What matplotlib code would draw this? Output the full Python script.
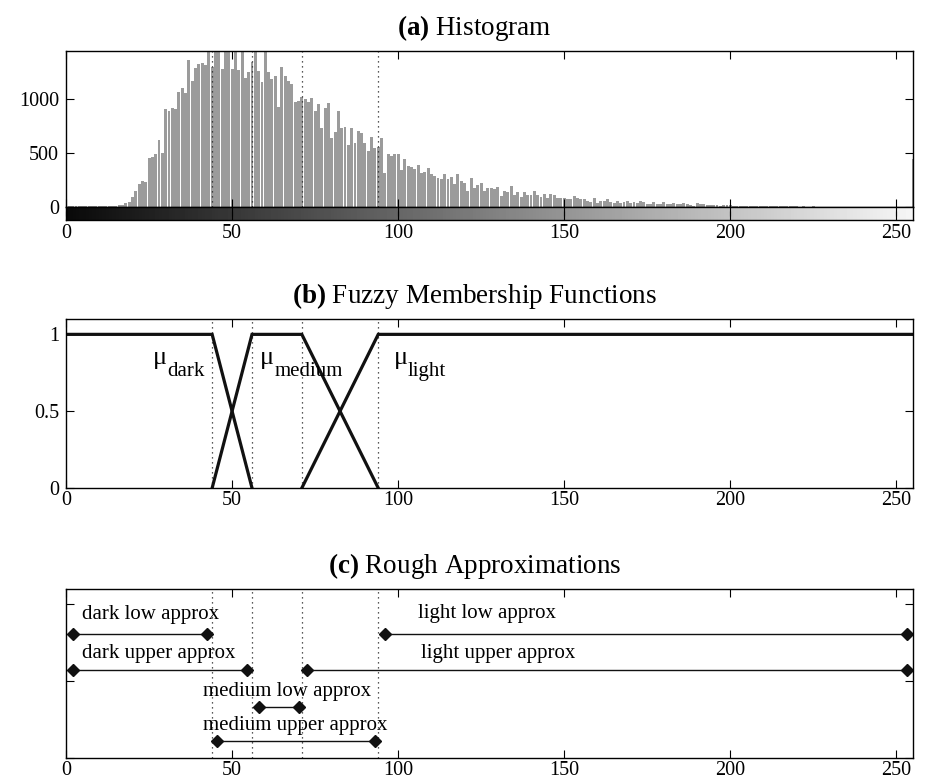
import matplotlib
matplotlib.use('Agg')
import matplotlib.pyplot as plt
import numpy as np

plt.rcParams['font.family'] = ['Liberation Serif', 'DejaVu Serif']
plt.rcParams['mathtext.fontset'] = 'custom'
plt.rcParams['mathtext.rm'] = 'Liberation Serif'
plt.rcParams['mathtext.bf'] = 'Liberation Serif:bold'

# grey-level histogram (counts for levels 0..255)
hist_counts = [
    4, 5, 5, 5, 5, 5, 5, 5, 5, 5, 5, 5, 5, 6,
    8, 12, 16,
    19, 34, 50, 90, 152, 214, 245, 236, 453, 468,
    493, 623, 499, 908, 893, 924, 908, 1073, 1110, 1063,
    1367, 1172, 1290, 1330, 1336, 1320, 1470, 1300, 1470, 1470,
    1287, 1470, 1470, 1287, 1470, 1271, 1470, 1200, 1256, 1349,
    1470, 1268, 1166, 1470, 1252, 1190, 1218, 933, 1299, 1218,
    1175, 1144, 973, 989, 1026, 1004, 973, 1017, 893, 958,
    732, 924, 970, 639, 694, 893, 732, 741, 577, 738,
    598, 710, 691, 592, 521, 654, 546, 561, 639, 319,
    493, 477, 493, 493,
    344, 443,
    384, 369, 353, 391, 319, 329, 360, 304, 288, 267,
    257, 304, 260, 276, 214, 304, 242, 220, 149, 267,
    174, 205, 220, 149, 180, 174, 164, 189, 102, 149,
    143, 198, 112, 136, 96, 136, 112, 112, 152, 112,
    90, 121, 81, 121, 112, 81, 81, 81,
    71, 71, 99, 84, 78, 71, 56, 47, 87, 40,
    56, 53, 78, 47, 40, 53, 40, 47, 53, 40,
    43, 40, 53, 47, 31, 25, 47, 31, 25, 43,
    31, 25, 34, 31, 31, 40, 25, 16, 12, 40,
    25, 25, 22, 22, 22, 16, 9, 19, 19, 16,
    9, 6, 6, 6,
    8, 6, 9, 7, 10, 6, 8, 5, 7, 9,
    6, 5, 8, 6, 5, 7, 4, 5, 3, 4,
    5, 3, 4, 3, 4, 3, 3, 4, 3, 2,
    3, 3, 2, 3, 2, 2, 3, 2, 2, 2,
    3, 2, 2, 1, 2, 2, 1, 2, 2, 3,
    450,
]
levels = np.arange(len(hist_counts))

# thresholds (dotted lines)
thresholds = [44, 56, 71, 94]

# fuzzy membership functions (breakpoints)
dark_x, dark_y = [0, 44, 56], [1, 1, 0]
medium_x, medium_y = [44, 56, 71, 94], [0, 1, 1, 0]
light_x, light_y = [71, 94, 255], [0, 1, 1]

# rough approximations
approx_names = ['dark low approx', 'dark upper approx', 'medium low approx',
                'medium upper approx', 'light low approx', 'light upper approx']
approx_start = [2, 2, 58, 45.5, 96, 72.5]
approx_end = [42.5, 54.5, 70, 93, 253.3, 253.3]
approx_row = [0.81, 0.57, 0.33, 0.11, 0.81, 0.57]
label_x = [4.7, 4.7, 41.2, 41.2, 106.1, 106.8]
label_y = [0.905, 0.651, 0.404, 0.182, 0.911, 0.651]

xticks = [0, 50, 100, 150, 200, 250]
W, H = 930, 784
TICK = 14.5
TITLE = 19.5


def px_axes(fig, left, top, right, bottom):
    return fig.add_axes([left / W, 1 - bottom / H, (right - left) / W, (bottom - top) / H])


def style(ax, length=6):
    ax.tick_params(direction='in', top=True, right=True, length=length, width=0.8,
                   labelsize=TICK, pad=5)
    for s in ax.spines.values():
        s.set_linewidth(1.0)


def dotted(ax):
    for t in thresholds:
        ax.axvline(t, color='#222222', lw=0.9, dashes=(1, 3))


def title(ax, bold, text):
    ax.set_title(r'$\mathbf{' + bold + '}$ ' + text, fontsize=TITLE, pad=11.5, x=0.482)


fig = plt.figure(figsize=(W / 100, H / 100), dpi=100)

# (a) histogram
ax1 = px_axes(fig, 66, 51, 913, 207)
ax1.bar(levels, hist_counts, width=0.88, color='#9b9b9b', edgecolor='none')
dotted(ax1)
ax1.set_xlim(0, 255)
ax1.set_ylim(0, 1450)
ax1.set_xticks(xticks)
ax1.set_yticks([0, 500, 1000])
style(ax1)
ax1.tick_params(labelbottom=False)
title(ax1, '(a)', 'Histogram')

axc = px_axes(fig, 66, 207, 913, 220)
axc.imshow(levels[None, :], cmap='gray', vmin=-10, vmax=265, aspect='auto',
           extent=(0, 255, 0, 1))
axc.set_xlim(0, 255)
axc.set_ylim(0, 1)
axc.set_xticks(xticks)
axc.set_yticks([])
style(axc, length=6.5)
axc.tick_params(pad=3)

# (b) fuzzy membership
ax2 = px_axes(fig, 66, 319, 913, 488)
dotted(ax2)
for xs, ys in [(dark_x, dark_y), (medium_x, medium_y), (light_x, light_y)]:
    ax2.plot(xs, ys, color='#111111', lw=2.3, solid_joinstyle='miter')
ax2.set_xlim(0, 255)
ax2.set_ylim(0, 1.1)
ax2.set_xticks(xticks)
ax2.set_yticks([0, 0.5, 1])
ax2.set_yticklabels(['0', '0.5', '1'])
style(ax2)
ax2.tick_params(axis='x', pad=2)
for mx, sx, sub in [(26.2, 30.4, 'dark'), (58.4, 62.7, 'medium'), (98.6, 102.8, 'light')]:
    ax2.text(mx, 0.81, 'μ', fontsize=19, va='baseline')
    ax2.text(sx, 0.727, sub, fontsize=15, va='baseline')
title(ax2, '(b)', 'Fuzzy Membership Functions')

# (c) rough approximations
ax3 = px_axes(fig, 66, 589, 913, 758)
dotted(ax3)
for i in range(len(approx_names)):
    ax3.plot([approx_start[i], approx_end[i]], [approx_row[i], approx_row[i]],
             color='#111111', lw=1.0, marker='D', ms=6.5, clip_on=False)
    ax3.text(label_x[i], label_y[i], approx_names[i], fontsize=15, va='baseline')
ax3.set_xlim(0, 255)
ax3.set_ylim(0, 1.1)
ax3.set_xticks(xticks)
ax3.set_yticks([0, 0.5, 1])
ax3.set_yticklabels([])
style(ax3)
ax3.tick_params(axis='x', pad=2)
title(ax3, '(c)', 'Rough Approximations')

plt.savefig('out.png', dpi=100)
plt.close()
